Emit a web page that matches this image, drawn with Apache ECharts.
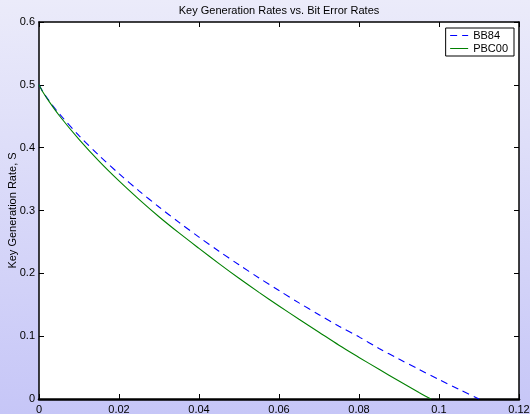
<!DOCTYPE html>
<html>
<head>
<meta charset="utf-8">
<script src="https://cdn.jsdelivr.net/npm/echarts@6/dist/echarts.min.js"></script>
<style>
html,body{margin:0;padding:0;}
#c{width:530px;height:414px;}
</style>
</head>
<body>
<div id="c"></div>
<script>
var titleText = 'Key Generation Rates vs. Bit Error Rates';
var yAxisName = 'Key Generation Rate, S';
var seriesNames = ['BB84', 'PBC00'];
var bb84Errors = [0, 0.001, 0.0025, 0.005, 0.01, 0.015, 0.02, 0.025, 0.03, 0.035, 0.04, 0.045, 0.05, 0.055, 0.06, 0.065, 0.07, 0.075, 0.08, 0.085, 0.09, 0.095, 0.1, 0.105, 0.11];
var bb84Rates  = [0.5, 0.4886, 0.4748, 0.4546, 0.4192, 0.3876, 0.3586, 0.3313, 0.3056, 0.2811, 0.2577, 0.2352, 0.2136, 0.1927, 0.1726, 0.1530, 0.1341, 0.1157, 0.0989, 0.0804, 0.0635, 0.0471, 0.031, 0.0153, 0];
var pbcErrors  = [0, 0.001, 0.0025, 0.005, 0.01, 0.015, 0.02, 0.025, 0.03, 0.035, 0.04, 0.045, 0.05, 0.055, 0.06, 0.065, 0.07, 0.075, 0.08, 0.085, 0.09, 0.095, 0.098];
var pbcRates   = [0.5, 0.4881, 0.4736, 0.4516, 0.4132, 0.3786, 0.3471, 0.3178, 0.2901, 0.2643, 0.2397, 0.2155, 0.1921, 0.1697, 0.1481, 0.1270, 0.1063, 0.0856, 0.0662, 0.0472, 0.0286, 0.0104, 0];

function pairs(xs, ys){ return xs.map(function(x,i){ return [x, ys[i]]; }); }

var chart = echarts.init(document.getElementById('c'), null, {renderer:'canvas'});
var font = 'Liberation Sans, Arial, sans-serif';
function axisBase(lineWidth){
  return {
    axisLine:{show:true, onZero:false, lineStyle:{color:'#000', width:lineWidth}},
    axisTick:{show:true, inside:true, length:5, lineStyle:{color:'#000', width:1}},
    splitLine:{show:false}
  };
}
chart.setOption({
  animation:false,
  backgroundColor:{type:'linear', x:0, y:0, x2:0, y2:1, colorStops:[{offset:0, color:'#ebebfa'},{offset:1, color:'#c6c6f7'}]},
  title:{text:titleText, left:279, top:5, padding:0, textAlign:'center', textStyle:{fontFamily:font, fontSize:11, fontWeight:'normal', color:'#000'}},
  grid:{left:39, right:11, top:22, bottom:15, containLabel:false, outerBoundsMode:'none', show:true, backgroundColor:'#fff', borderWidth:0},
  legend:{
    right:16, top:28, orient:'vertical', itemGap:2, itemWidth:18, itemHeight:10,
    backgroundColor:'#fff', borderColor:'#000', borderWidth:1, padding:[2,6,2,4], borderRadius:0,
    textStyle:{fontFamily:font, fontSize:11, color:'#000'},
    itemStyle:{opacity:0},
    data:[
      {name:seriesNames[0], lineStyle:{width:1, color:'#0000ff', type:[7,5]}},
      {name:seriesNames[1], lineStyle:{width:1, color:'#008000'}}
    ]
  },
  xAxis:[
    Object.assign({type:'value', min:0, max:0.12, interval:0.02, position:'bottom',
      axisLabel:{fontFamily:font, fontSize:11, color:'#000', margin:5}}, axisBase(2.5)),
    Object.assign({type:'value', min:0, max:0.12, interval:0.02, position:'top', axisLabel:{show:false}}, axisBase(1.5))
  ],
  yAxis:[
    Object.assign({type:'value', min:0, max:0.6, interval:0.1, position:'left',
      name:yAxisName, nameLocation:'middle', nameGap:21, nameRotate:90, nameMoveOverlap:false,
      nameTextStyle:{fontFamily:font, fontSize:11, color:'#000'},
      axisLabel:{fontFamily:font, fontSize:11, color:'#000', margin:4}}, axisBase(1.5)),
    Object.assign({type:'value', min:0, max:0.6, interval:0.1, position:'right', axisLabel:{show:false}}, axisBase(1.5))
  ],
  series:[
    {name:seriesNames[0], type:'line', data:pairs(bb84Errors, bb84Rates), smooth:0.3, showSymbol:false, symbol:'none',
      lineStyle:{color:'#0000ff', width:1.1, type:[7,5]}, itemStyle:{color:'#0000ff'}},
    {name:seriesNames[1], type:'line', data:pairs(pbcErrors, pbcRates), smooth:0.3, showSymbol:false, symbol:'none',
      lineStyle:{color:'#008000', width:1.1}, itemStyle:{color:'#008000'}}
  ]
});
</script>
</body>
</html>
